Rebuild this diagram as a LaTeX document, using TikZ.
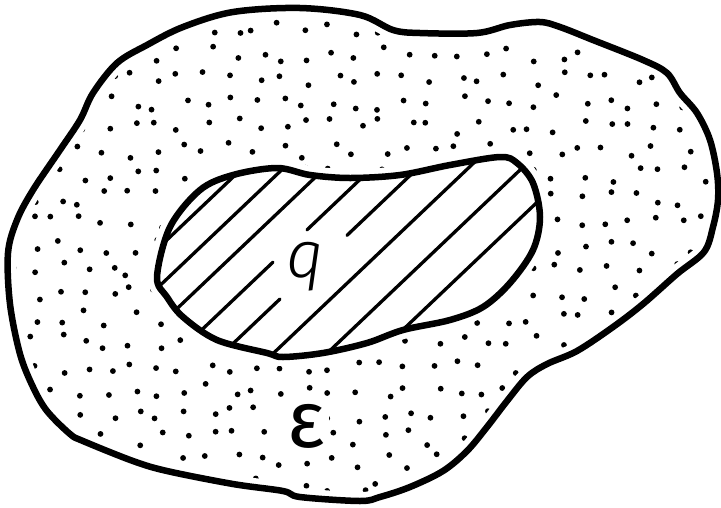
\documentclass[tikz,border=0pt]{standalone}
\usepackage{fontspec}
\newfontfamily\qfont{Fira Sans Light Italic}
\newfontfamily\efont{Fira Sans}
\tikzset{
  outline/.style={line width=6.5pt, line join=round, line cap=round},
  hatchline/.style={line width=3.3pt, line cap=round},
  stipple/.style={fill=black},
}
\def\outerpath{plot[smooth cycle, tension=0.55] coordinates {(360,15) (300,8) (233,12) (183,27) (147,45) (117,63) (93,93) (80,120) (60,150) (33,190) (17,220) (8,253) (10,304) (20,354) (33,387) (47,411) (70,434) (83,441) (133,461) (167,471) (233,484) (283,491) (300,497) (360,501) (380,497) (410,487) (443,471) (467,451) (487,427) (507,401) (527,377) (547,364) (577,351) (613,327) (643,304) (677,274) (704,252) (713,227) (718,200) (717,173) (710,140) (697,113) (680,93) (667,73) (643,60) (593,40) (560,27) (540,22) (510,25) (477,33) (420,33) (393,30)}}
\def\innerpath{plot[smooth cycle, tension=0.55] coordinates {(157,277) (170,227) (200,190) (233,175) (277,168) (310,175) (350,178) (400,175) (450,165) (500,157) (517,163) (533,183) (540,217) (533,250) (510,283) (483,307) (450,320) (403,330) (367,343) (323,353) (283,357) (267,353) (217,340) (183,317) (167,297)}}
\begin{document}
\begin{tikzpicture}[x=1pt,y=-1pt]
\useasboundingbox (0,0) rectangle (721,507);
% stipple
\begin{scope}
  \clip \outerpath;
  \pgfmathsetseed{11}
  \foreach \i in {0,...,29}{
    \foreach \j in {0,...,21}{
      \pgfmathsetmacro\xx{\i*25+8+8*rand}
      \pgfmathsetmacro\yy{\j*24+6+8*rand}
      \fill[stipple] (\xx,\yy) circle[radius=2.9pt];
    }
  }
\end{scope}
% clear margins
\draw[white, line width=18pt] \outerpath;
\fill[white] \innerpath;
\draw[white, line width=18pt] \innerpath;
% hatching
\begin{scope}
  \clip \innerpath;
  \foreach \c in {398.5,437.5,476.8,613,664,712.5}{
    \draw[hatchline] (150,\c-142.5) -- (550,\c-522.5);
  }
  \draw[hatchline] (150,521.5-142.5) -- (273,521.5-259.35);
  \draw[hatchline] (307,521.5-291.65) -- (550,521.5-522.5);
  \draw[hatchline] (150,565-142.5) -- (280,565-266);
  \draw[hatchline] (347,565-329.65) -- (550,565-522.5);
\end{scope}
% outlines
\draw[outline] \outerpath;
\draw[outline] \innerpath;
% labels
\node[anchor=base, inner sep=0pt, font=\qfont\fontsize{66}{66}\selectfont] (lq) at (305,277) {q};
\node[anchor=base, inner sep=4pt, fill=white, font=\efont\fontsize{80}{80}\selectfont] (le) at (306,447) {ε};
\end{tikzpicture}
\end{document}
